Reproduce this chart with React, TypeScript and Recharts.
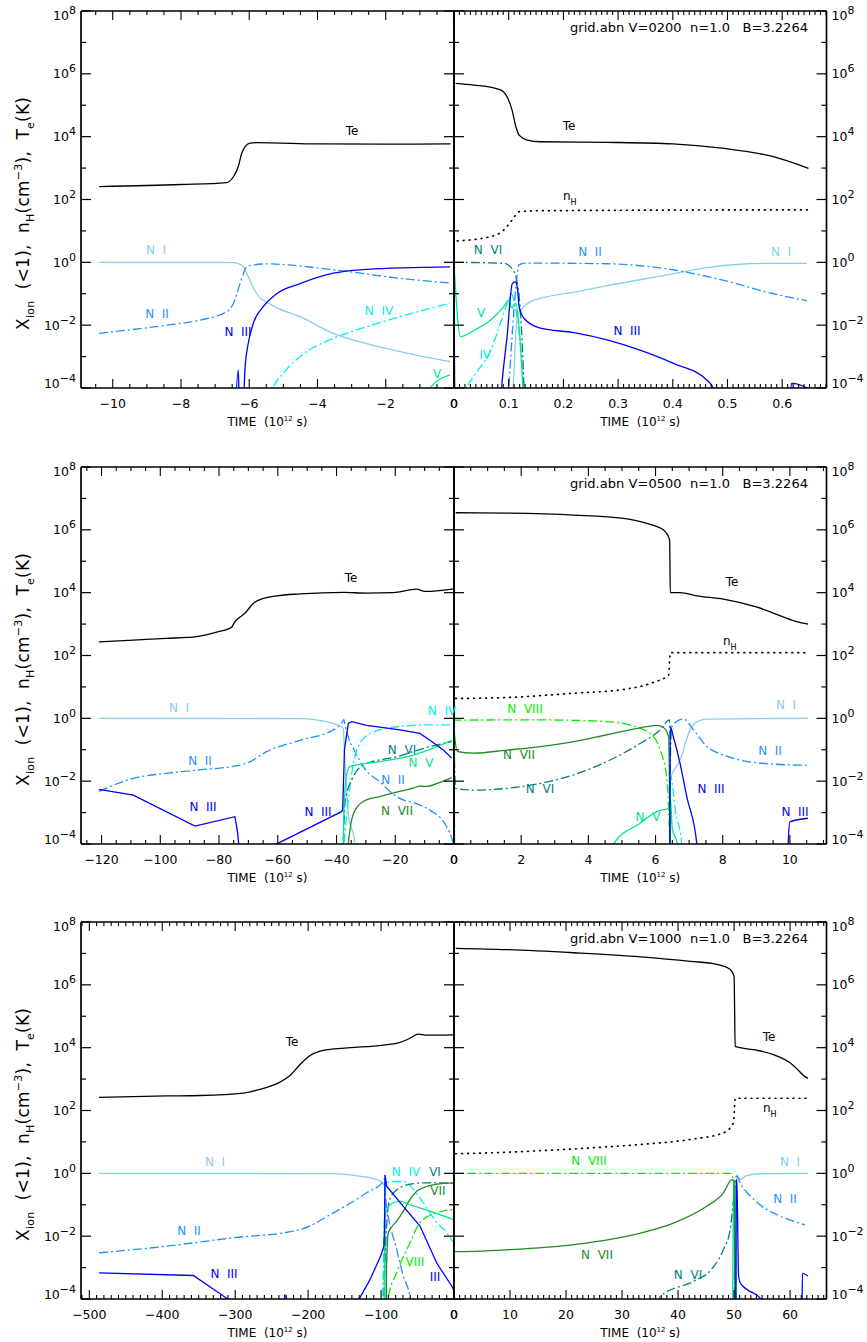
import React from 'react';
import { LineChart, Line, XAxis, YAxis } from 'recharts';

type Pt = [number, number];

// ---------- shared ----------
const yDecades = [1e-4, 1e-3, 1e-2, 1e-1, 1, 1e1, 1e2, 1e3, 1e4, 1e5, 1e6, 1e7, 1e8];

// ---------- row 1 : V=0200 ----------
const r1L_ticks = [-10, -8, -6, -4, -2, 0];
const r1R_ticks = [0, 0.1, 0.2, 0.3, 0.4, 0.5, 0.6];

const r1L_te: Pt[] = [[-10.4, 257], [-8, 300], [-6.66, 347], [-6.46, 540], [-6.32, 1120], [-6.22, 2950], [-6.12, 4800], [-5.98, 6200], [-5.78, 6450], [-4, 5900], [-2, 5750], [-0.1, 5900]];
const r1L_n1: Pt[] = [[-10.4, 1.0], [-6.9, 1.0], [-6.46, 0.98], [-6.17, 0.72], [-6.03, 0.35], [-5.78, 0.1], [-5.29, 0.041], [-4.51, 0.0186], [-3.54, 0.0055], [-2.56, 0.0026], [-1.58, 0.00145], [-0.12, 0.00069]];
const r1L_n2: Pt[] = [[-10.4, 0.0055], [-8.42, 0.01], [-7.44, 0.0145], [-6.66, 0.027], [-6.46, 0.05], [-6.27, 0.21], [-6.07, 0.72], [-5.88, 0.82], [-5.49, 0.89], [-3.54, 0.58], [-1.58, 0.31], [-0.12, 0.22]];
const r1L_n3: Pt[] = [[-6.42, 1e-5], [-6.32, 3.7e-4], [-6.28, 1e-5], [-6.2, 1e-5], [-6.12, 4.8e-4], [-6.03, 2.6e-3], [-5.88, 0.0115], [-5.59, 0.039], [-5.2, 0.1], [-4.51, 0.21], [-3.54, 0.45], [-2.56, 0.6], [-0.12, 0.72]];
const r1L_n4: Pt[] = [[-5.5, 1e-5], [-5.29, 1e-4], [-5.0, 2.95e-4], [-4.51, 1e-3], [-3.54, 3.8e-3], [-2.56, 8.9e-3], [-1.58, 0.0186], [-0.12, 0.05]];
const r1L_n5: Pt[] = [[-0.75, 1e-5], [-0.7, 1e-4], [-0.12, 2.6e-4]];

const r1R_te: Pt[] = [[0.003, 5.0e5], [0.036, 4.4e5], [0.085, 3.1e5], [0.097, 1.86e5], [0.106, 7.1e4], [0.113, 2.1e4], [0.119, 1.12e4], [0.134, 7.8e3], [0.158, 6.9e3], [0.28, 6.6e3], [0.4, 5.9e3], [0.49, 4.3e3], [0.584, 2.3e3], [0.648, 980]];
const r1R_nh: Pt[] = [[0.006, 4.8], [0.067, 6.6], [0.091, 10.7], [0.106, 22], [0.119, 41], [0.158, 44], [0.648, 47]];
const r1R_n6: Pt[] = [[0, 1.0], [0.091, 0.93], [0.103, 0.72], [0.113, 0.35], [0.122, 0.0186], [0.128, 1e-4], [0.13, 1e-5]];
const r1R_n2: Pt[] = [[0.095, 1e-5], [0.1, 1e-4], [0.1066, 5.6e-3], [0.1126, 0.13], [0.119, 0.83], [0.13, 0.95], [0.28, 0.9], [0.4, 0.58], [0.49, 0.275], [0.584, 0.1], [0.645, 0.06]];
const r1R_n3: Pt[] = [[0, 0.7], [0.002, 1e-5], [0.083, 1e-5], [0.087, 1e-4], [0.097, 4.3e-3], [0.1066, 0.21], [0.112, 0.24], [0.116, 0.15], [0.119, 0.039], [0.128, 0.0166], [0.158, 8e-3], [0.219, 5.8e-3], [0.28, 3.4e-3], [0.34, 1.6e-3], [0.4, 6.2e-4], [0.462, 1.8e-4], [0.474, 1e-4], [0.48, 1e-5], [0.612, 1e-5], [0.617, 1.4e-4], [0.645, 1e-4], [0.65, 1e-5]];
const r1R_n1: Pt[] = [[0.104, 1e-5], [0.108, 1e-4], [0.1157, 0.0186], [0.125, 0.035], [0.14, 0.056], [0.158, 0.071], [0.225, 0.117], [0.28, 0.18], [0.4, 0.43], [0.462, 0.68], [0.523, 0.87], [0.584, 0.93], [0.645, 0.93]];
const r1R_n4: Pt[] = [[0.02, 1e-5], [0.024, 1e-4], [0.036, 2.3e-4], [0.067, 1.6e-3], [0.085, 0.0115], [0.091, 0.024], [0.1, 0.063], [0.104, 0.1], [0.11, 0.06], [0.115, 0.02], [0.122, 1.6e-3], [0.126, 1e-4], [0.128, 1e-5]];
const r1R_n5: Pt[] = [[0, 0.85], [0.012, 4.3e-3], [0.037, 6.9e-3], [0.067, 0.0145], [0.091, 0.039], [0.1, 0.063], [0.106, 0.035], [0.113, 0.05], [0.12, 5e-3], [0.126, 1e-4], [0.129, 1e-5]];

// ---------- row 2 : V=0500 ----------
const r2L_ticks = [-120, -100, -80, -60, -40, -20, 0];
const r2R_ticks = [0, 2, 4, 6, 8, 10];

const r2L_te: Pt[] = [[-120.9, 270], [-109.2, 310], [-97.9, 350], [-87.6, 400], [-80.8, 550], [-75.7, 800], [-74.6, 1200], [-73.5, 1500], [-71.2, 2200], [-68.3, 4600], [-64.9, 6600], [-60.4, 7900], [-52.5, 9100], [-37.7, 10200], [-29.7, 9700], [-20.7, 10000], [-12.7, 12900], [-9.9, 11000], [-0.2, 13300]];
const r2L_n1: Pt[] = [[-120.9, 1.0], [-52.5, 0.98], [-41.1, 0.69], [-38.3, 0.54], [-37.7, 0.45], [-37.1, 0.037], [-36, 9.5e-4], [-33.7, 1e-4], [-33, 1e-5]];
const r2L_n2: Pt[] = [[-120.9, 4.7e-3], [-109.2, 0.0123], [-97.9, 0.0178], [-86.5, 0.023], [-74, 0.031], [-70.6, 0.037], [-63.8, 0.087], [-52.5, 0.2], [-41.1, 0.43], [-38.3, 0.7], [-37.5, 0.9], [-37, 0.55], [-36, 0.26], [-33.5, 0.08], [-30.9, 0.029], [-25, 9e-3], [-19.5, 3.2e-3], [-12, 1.8e-3], [-8.2, 1.2e-3], [-2.5, 3.5e-4], [-0.3, 1e-4], [0, 1e-5]];
const r2L_n3: Pt[] = [[-120.9, 5.5e-3], [-109.2, 3.6e-3], [-88.2, 3.7e-4], [-74.6, 7.4e-4], [-73.8, 2.8e-4], [-73.3, 1e-4], [-73, 1e-5], [-61, 1e-5], [-60.4, 1e-4], [-38.3, 1.07e-3], [-37.9, 1.2e-3], [-37.3, 0.1], [-36, 0.69], [-34.8, 0.78], [-29.7, 0.6], [-18.4, 0.43], [-11.6, 0.33], [-8.2, 0.2], [-3.6, 0.098], [-0.8, 0.054]];
const r2L_n4: Pt[] = [[-40, 1e-5], [-37.5, 1e-4], [-36, 2.5e-3], [-33.1, 0.098], [-28.6, 0.33], [-19.5, 0.54], [-8.2, 0.62], [-0.8, 0.62]];
const r2L_n5: Pt[] = [[-37.9, 1e-5], [-37.5, 1e-3], [-36.5, 0.0178], [-35.4, 0.029], [-33.1, 0.033], [-25.2, 0.042], [-13.9, 0.068], [-0.8, 0.2]];
const r2L_n6: Pt[] = [[-38, 1e-5], [-37, 2.5e-3], [-34.3, 0.0138], [-30.9, 0.033], [-19.5, 0.06], [-8.2, 0.126], [-0.8, 0.18]];
const r2L_n7: Pt[] = [[-37, 1e-5], [-36, 1e-4], [-35, 5e-4], [-33, 1.5e-3], [-30, 2.5e-3], [-25, 3.3e-3], [-19.5, 4.5e-3], [-13.9, 6e-3], [-11.6, 7e-3], [-9.3, 6.8e-3], [-5, 9e-3], [-0.8, 0.013]];

const r2R_te: Pt[] = [[0.05, 3.5e6], [1.58, 3.4e6], [3.56, 2.95e6], [5.05, 2.3e6], [5.74, 1.6e6], [6.24, 9.8e5], [6.42, 4.8e5], [6.44, 1.0e4], [6.73, 1.0e4], [7.23, 7.9e3], [8.02, 6.2e3], [9.0, 3.5e3], [10.1, 1.3e3], [10.2, 1.2e3], [10.54, 1.0e3]];
const r2R_nh: Pt[] = [[0.05, 4.3], [1.58, 4.6], [3.56, 6.3], [5.05, 8.3], [5.94, 14], [6.39, 24], [6.44, 123], [10.54, 123]];
const r2R_n8: Pt[] = [[0, 1e-5], [0.02, 0.88], [2.57, 0.89], [4.55, 0.79], [5.54, 0.48], [5.94, 0.26], [6.14, 0.098], [6.34, 0.011], [6.42, 1e-4], [6.44, 1e-5]];
const r2R_n7: Pt[] = [[0, 0.38], [0.1, 0.087], [0.59, 0.078], [1.58, 0.098], [2.57, 0.126], [3.56, 0.18], [4.55, 0.3], [5.54, 0.5], [6.04, 0.6], [6.24, 0.51], [6.39, 0.26], [6.44, 1e-5]];
const r2R_n6: Pt[] = [[0, 0.18], [0.05, 5.9e-3], [0.59, 5.2e-3], [1.58, 5.9e-3], [2.57, 8.5e-3], [3.56, 0.0158], [4.55, 0.042], [5.54, 0.158], [6.14, 0.43], [6.42, 0.89], [6.44, 1e-5]];
const r2R_n5: Pt[] = [[0, 0.2], [0.03, 1e-5], [4.7, 1e-5], [4.75, 1e-4], [5.54, 4.6e-4], [6.04, 1.07e-3], [6.39, 1.4e-3], [6.44, 3e-3], [6.5, 3e-4], [6.65, 1e-4], [6.7, 1e-5]];
const r2R_n4: Pt[] = [[0, 0.62], [0.02, 1e-5], [6.42, 1e-5], [6.45, 0.014], [6.6, 1e-3], [6.78, 1e-4], [6.82, 1e-5]];
const r2R_n3: Pt[] = [[0, 0.054], [0.02, 1e-5], [6.42, 1e-5], [6.44, 0.54], [6.53, 0.26], [6.73, 0.037], [6.93, 3.2e-3], [7.23, 1e-4], [7.26, 1e-5], [9.93, 1e-5], [9.95, 1e-4], [10.0, 5.1e-4], [10.54, 6.6e-4]];
const r2R_n2: Pt[] = [[6.42, 1e-5], [6.44, 0.05], [6.5, 0.6], [6.83, 0.95], [7.13, 0.43], [7.52, 0.13], [8.02, 0.068], [8.51, 0.047], [9.5, 0.035], [10.5, 0.032]];
const r2R_n1: Pt[] = [[6.42, 1e-5], [6.44, 0.011], [6.73, 0.047], [7.03, 0.43], [7.23, 0.78], [7.52, 0.95], [10.54, 1.0]];

// ---------- row 3 : V=1000 ----------
const r3L_ticks = [-500, -400, -300, -200, -100, 0];
const r3R_ticks = [0, 10, 20, 30, 40, 50, 60];

const r3L_te: Pt[] = [[-486.7, 263], [-394, 290], [-348, 300], [-289, 360], [-266, 470], [-238.6, 800], [-224.9, 1290], [-211, 2900], [-197.4, 5600], [-183.7, 7800], [-165.4, 9100], [-142.6, 1.0e4], [-96.9, 1.2e4], [-74, 1.48e4], [-60.3, 2.0e4], [-48.9, 2.7e4], [-37.5, 2.5e4], [-0.9, 2.57e4]];
const r3L_n1: Pt[] = [[-486.7, 1.0], [-165.4, 0.98], [-128.9, 0.81], [-114.5, 0.72], [-100.8, 0.56], [-96.2, 0.44], [-94.5, 0.25], [-93.5, 1e-3], [-93, 1e-5]];
const r3L_n2: Pt[] = [[-486.7, 2.95e-3], [-394, 4.8e-3], [-302.6, 8.9e-3], [-220.3, 0.0145], [-211.2, 0.0162], [-165.4, 0.055], [-119.7, 0.24], [-96.9, 0.56], [-95, 0.7], [-94.6, 0.24], [-78.6, 3.8e-3], [-69.5, 5.4e-4], [-60.3, 1.1e-4], [-59, 1e-5]];
const r3L_n3: Pt[] = [[-486.7, 6.8e-4], [-357.4, 5.6e-4], [-311.7, 1.05e-4], [-310, 1e-5], [-235, 1e-5], [-232, 1.4e-4], [-229, 1e-5], [-136, 1e-5], [-130, 1e-4], [-115, 4.2e-4], [-100, 2.5e-3], [-96, 5e-3], [-95.2, 0.02], [-94.6, 0.9], [-92.3, 0.39], [-69.5, 0.089], [-46.6, 0.021], [-23.7, 1.4e-3], [-3.2, 2.6e-4], [-0.5, 2e-4]];
const r3L_n4: Pt[] = [[-102, 1e-5], [-98, 1e-4], [-95.5, 0.05], [-93, 0.4], [-88, 0.55], [-70, 0.55], [-62, 0.45], [-55.8, 0.31], [-42.1, 0.115], [-23.7, 0.027], [-10, 0.013], [-1, 0.0063]];
const r3L_n5: Pt[] = [[-96, 1e-5], [-95, 0.03], [-94.6, 0.044], [-87.8, 0.1], [-74, 0.13], [-60.3, 0.1], [-32.9, 0.063], [-1, 0.034]];
const r3L_n6: Pt[] = [[-97, 1e-5], [-95, 1e-3], [-92, 0.03], [-88, 0.15], [-80, 0.28], [-74, 0.35], [-60, 0.45], [-40, 0.5], [-1, 0.48]];
const r3L_n7: Pt[] = [[-93, 1e-5], [-92.5, 1e-3], [-90, 0.013], [-78.6, 0.03], [-69.5, 0.063], [-60.3, 0.148], [-51.1, 0.27], [-42, 0.35], [-23.7, 0.45], [-1, 0.5]];
const r3L_n8: Pt[] = [[-91, 1e-5], [-90, 1.1e-4], [-78.6, 6.9e-4], [-60.3, 6.2e-3], [-46.6, 0.027], [-23.7, 0.055], [-1, 0.071]];

const r3R_te: Pt[] = [[0.3, 1.45e7], [9.5, 1.32e7], [21.4, 1.05e7], [33.3, 7.8e6], [42.2, 5.6e6], [46.9, 4.5e6], [49.3, 3.1e6], [50.0, 1.9e6], [50.2, 1.1e4], [51.1, 1.0e4], [54, 8.3e3], [57, 6.0e3], [60, 3.3e3], [61.8, 1.66e3], [62.4, 1.29e3], [63.2, 1.05e3]];
const r3R_nh: Pt[] = [[0.3, 4.2], [9.5, 4.7], [21.4, 6.0], [33.3, 8.3], [42.2, 12], [48.1, 19.5], [49.9, 41], [50.2, 245], [63.2, 245]];
const r3R_n8: Pt[] = [[0, 1e-5], [0.05, 1.0], [49.3, 1.0], [49.9, 0.63], [50.1, 0.1], [50.3, 1e-5]];
const r3R_n7: Pt[] = [[0, 0.5], [0.05, 3.2e-3], [9.5, 3.7e-3], [21.4, 5.4e-3], [33.3, 0.0126], [39.2, 0.026], [45.1, 0.089], [48.1, 0.24], [49.6, 0.63], [50.0, 0.6], [50.2, 1e-5]];
const r3R_n6: Pt[] = [[0, 0.48], [0.05, 1e-5], [36, 1e-5], [36.8, 1.2e-4], [42.8, 3.7e-4], [45.7, 7.8e-4], [48.1, 3.8e-3], [49.3, 0.016], [49.9, 0.15], [50.2, 0.56], [50.4, 1e-5]];
const r3R_n5: Pt[] = [[0, 0.034], [0.05, 1e-5], [49.7, 1e-5], [49.9, 0.5], [50.2, 0.3], [50.4, 1e-5]];
const r3R_n4: Pt[] = [[0, 6.3e-3], [0.05, 1e-5]];
const r3R_n1: Pt[] = [[50.2, 1e-5], [50.3, 1e-3], [50.5, 0.9], [51.1, 0.63], [52.2, 0.85], [54.6, 0.97], [63.2, 1.0]];
const r3R_n2: Pt[] = [[50.0, 1e-5], [50.2, 0.3], [50.4, 0.81], [51.4, 0.39], [52.9, 0.19], [54.6, 0.1], [57.6, 0.049], [60.6, 0.03], [62.7, 0.023]];
const r3R_n3: Pt[] = [[50.3, 1e-5], [50.4, 0.63], [50.5, 0.63], [50.8, 5.4e-4], [51.1, 3.3e-4], [52.3, 2e-4], [54.6, 1.1e-4], [55, 1e-5], [62.1, 1e-5], [62.2, 6.5e-4], [63.2, 5.4e-4]];

// ---------- styles ----------
const COL = {
  te: '#000000', nh: '#000000',
  n1: '#87CEEB', n2: '#1E90FF', n3: '#0000FF', n4: '#00F0F0',
  n5: '#00E68A', n6: '#008080', n7: '#228B22', n8: '#00EE00',
};
const DASH: Record<string, string | undefined> = { solid: undefined, dd: '9 3 2 3', dot: '0.8 5.2' };
const FONT = '"DejaVu Sans", "Liberation Sans", sans-serif';

type Series = { data: Pt[]; color: string; kind: 'solid' | 'dd' | 'dot'; curve: 'monotoneX' | 'linear' };
const S = (data: Pt[], color: string, kind: Series['kind'] = 'solid', curve: Series['curve'] = 'monotoneX'): Series =>
  ({ data, color, kind, curve });

// chart margins + axis box sizes (axes need a non-zero box to be drawn)
const AX_H = 30, AX_W = 40;
const M = { top: 0, bottom: 20, left: 20, right: 20 };
const OFF_L = M.left + AX_W, OFF_T = M.top + AX_H;
const PLOT_H = 377;

const fmt = (v: number) => (v < 0 ? '\u2212' + String(-v) : String(v));

function Panel(props: {
  left: number; top: number; w: number; domain: [number, number];
  majors: number[]; minor: number; side: 'left' | 'right'; series: Series[];
}) {
  const { left, top, w, domain, majors, minor, side, series } = props;
  const all: number[] = [];
  const i0 = Math.ceil(domain[0] / minor - 1e-9);
  const i1 = Math.floor(domain[1] / minor + 1e-9);
  for (let i = i0; i <= i1; i++) all.push(+(i * minor).toFixed(6));
  const findMajor = (v: number) => majors.find(m => Math.abs(m - v) < minor * 0.01);

  const bottomTick = (p: any) => {
    const m = findMajor(p.payload.value);
    return (
      <g>
        <line x1={p.x} x2={p.x} y1={p.y} y2={p.y - (m !== undefined ? 9 : 4)} stroke="#000" strokeWidth={1.1} />
        {m !== undefined && (
          <text x={p.x} y={p.y + 20} textAnchor="middle" fontSize={12.5} fill="#000" fontFamily={FONT}>{fmt(m)}</text>
        )}
      </g>
    );
  };
  const topTick = (p: any) => {
    const m = findMajor(p.payload.value);
    return <line x1={p.x} x2={p.x} y1={p.y} y2={p.y + (m !== undefined ? 9 : 4)} stroke="#000" strokeWidth={1.1} />;
  };
  const yTick = (pos: 'left' | 'right', showLabel: boolean) => (p: any) => {
    const e = Math.round(Math.log10(p.payload.value));
    const major = e % 2 === 0;
    const len = major ? 10 : 5;
    const dir = pos === 'left' ? 1 : -1;
    let ly = p.y + 4.5;
    if (e === 8) ly = p.y + 9;
    if (e === -4) ly = p.y;
    return (
      <g>
        <line x1={p.x} x2={p.x + dir * len} y1={p.y} y2={p.y} stroke="#000" strokeWidth={1.2} />
        {showLabel && major && (
          <text x={pos === 'left' ? p.x - 5 : p.x + 5} y={ly} textAnchor={pos === 'left' ? 'end' : 'start'}
            fontSize={12.5} fill="#000" fontFamily={FONT}>
            10<tspan dy={-6} fontSize={11}>{e < 0 ? '\u2212' + String(-e) : String(e)}</tspan>
          </text>
        )}
      </g>
    );
  };
  const axisLine = { stroke: '#000', strokeWidth: 1.7 };

  return (
    <div style={{ position: 'absolute', left: left - OFF_L, top: top - OFF_T }}>
      <LineChart width={w + 2 * (M.left + AX_W)} height={PLOT_H + 2 * AX_H + M.top + M.bottom} margin={M}>
        <XAxis xAxisId="b" type="number" dataKey="t" domain={domain} allowDataOverflow ticks={all} interval={0}
          height={AX_H} tickSize={0} tickMargin={0} tickLine={false} axisLine={axisLine} tick={bottomTick} />
        <XAxis xAxisId="t" orientation="top" type="number" dataKey="t" domain={domain} allowDataOverflow ticks={all} interval={0}
          height={AX_H} tickSize={0} tickMargin={0} tickLine={false} axisLine={axisLine} tick={topTick} />
        <YAxis yAxisId="l" orientation="left" type="number" scale="log" domain={[1e-4, 1e8]} allowDataOverflow ticks={yDecades}
          interval={0} width={AX_W} tickSize={0} tickMargin={0} tickLine={false} axisLine={axisLine} tick={yTick('left', side === 'left')} />
        <YAxis yAxisId="r" orientation="right" type="number" scale="log" domain={[1e-4, 1e8]} allowDataOverflow ticks={yDecades}
          interval={0} width={AX_W} tickSize={0} tickMargin={0} tickLine={false} axisLine={axisLine} tick={yTick('right', side === 'right')} />
        {series.map((s, i) => (
          <Line key={i} xAxisId="b" yAxisId="l" data={s.data.map(([t, v]) => ({ t, v }))} dataKey="v" type={s.curve}
            stroke={s.color} strokeWidth={s.kind === 'dot' ? 1.7 : 1.3} strokeDasharray={DASH[s.kind]}
            strokeLinecap={s.kind === 'dot' ? 'round' : 'butt'} dot={false} activeDot={false} isAnimationActive={false} />
        ))}
      </LineChart>
    </div>
  );
}

const ROW_TOP = [11, 467, 922];
const XL = 81, XM = 454, XR = 826.5;

const panels = [
  { left: XL, top: ROW_TOP[0], w: XM - XL, domain: [-10.93, 0] as [number, number], majors: r1L_ticks, minor: 0.5, side: 'left' as const,
    series: [S(r1L_n1, COL.n1), S(r1L_n2, COL.n2, 'dd'), S(r1L_n3, COL.n3), S(r1L_n4, COL.n4, 'dd'), S(r1L_n5, COL.n5), S(r1L_te, COL.te)] },
  { left: XM, top: ROW_TOP[0], w: XR - XM, domain: [0, 0.681] as [number, number], majors: r1R_ticks, minor: 0.01, side: 'right' as const,
    series: [S(r1R_n1, COL.n1), S(r1R_n2, COL.n2, 'dd'), S(r1R_n4, COL.n4, 'dd'), S(r1R_n5, COL.n5), S(r1R_n6, COL.n6, 'dd'), S(r1R_n3, COL.n3), S(r1R_nh, COL.nh, 'dot'), S(r1R_te, COL.te)] },
  { left: XL, top: ROW_TOP[1], w: XM - XL, domain: [-127, 0] as [number, number], majors: r2L_ticks, minor: 5, side: 'left' as const,
    series: [S(r2L_n1, COL.n1), S(r2L_n2, COL.n2, 'dd'), S(r2L_n4, COL.n4, 'dd'), S(r2L_n6, COL.n6, 'dd'), S(r2L_n5, COL.n5), S(r2L_n7, COL.n7), S(r2L_n3, COL.n3, 'solid', 'linear'), S(r2L_te, COL.te)] },
  { left: XM, top: ROW_TOP[1], w: XR - XM, domain: [0, 11.09] as [number, number], majors: r2R_ticks, minor: 0.5, side: 'right' as const,
    series: [S(r2R_n1, COL.n1), S(r2R_n2, COL.n2, 'dd'), S(r2R_n4, COL.n4, 'dd'), S(r2R_n6, COL.n6, 'dd'), S(r2R_n8, COL.n8, 'dd'), S(r2R_n5, COL.n5), S(r2R_n7, COL.n7), S(r2R_n3, COL.n3), S(r2R_nh, COL.nh, 'dot'), S(r2R_te, COL.te)] },
  { left: XL, top: ROW_TOP[2], w: XM - XL, domain: [-511.4, 0] as [number, number], majors: r3L_ticks, minor: 10, side: 'left' as const,
    series: [S(r3L_n1, COL.n1), S(r3L_n2, COL.n2, 'dd'), S(r3L_n4, COL.n4, 'dd'), S(r3L_n6, COL.n6, 'dd'), S(r3L_n8, COL.n8, 'dd'), S(r3L_n5, COL.n5), S(r3L_n7, COL.n7), S(r3L_n3, COL.n3, 'solid', 'linear'), S(r3L_te, COL.te)] },
  { left: XM, top: ROW_TOP[2], w: XR - XM, domain: [0, 66.5] as [number, number], majors: r3R_ticks, minor: 1, side: 'right' as const,
    series: [S(r3R_n1, COL.n1), S(r3R_n2, COL.n2, 'dd'), S(r3R_n4, COL.n4, 'dd'), S(r3R_n6, COL.n6, 'dd'), S(r3R_n8, COL.n8, 'dd'), S(r3R_n5, COL.n5), S(r3R_n7, COL.n7), S(r3R_n3, COL.n3), S(r3R_nh, COL.nh, 'dot'), S(r3R_te, COL.te)] },
];

const annotations = ['grid.abn V=0200  n=1.0   B=3.2264', 'grid.abn V=0500  n=1.0   B=3.2264', 'grid.abn V=1000  n=1.0   B=3.2264'];

// series label placement (centre of text)
const seriesLabels: { x: number; y: number; t: string; c: string }[] = [
  { x: 352, y: 131, t: 'Te', c: COL.te },
  { x: 156, y: 250, t: 'N  I', c: COL.n1 },
  { x: 157, y: 314, t: 'N  II', c: COL.n2 },
  { x: 238, y: 332, t: 'N  III', c: COL.n3 },
  { x: 379, y: 311, t: 'N  IV', c: COL.n4 },
  { x: 437, y: 374, t: 'V', c: COL.n5 },
  { x: 569, y: 126, t: 'Te', c: COL.te },
  { x: 488, y: 250, t: 'N  VI', c: COL.n6 },
  { x: 590, y: 252, t: 'N  II', c: COL.n2 },
  { x: 781, y: 252, t: 'N  I', c: COL.n1 },
  { x: 627, y: 331, t: 'N  III', c: COL.n3 },
  { x: 481, y: 313, t: 'V', c: COL.n5 },
  { x: 485, y: 355, t: 'IV', c: COL.n4 },

  { x: 351, y: 578, t: 'Te', c: COL.te },
  { x: 179, y: 708, t: 'N  I', c: COL.n1 },
  { x: 200, y: 761, t: 'N  II', c: COL.n2 },
  { x: 203, y: 807, t: 'N  III', c: COL.n3 },
  { x: 318, y: 812, t: 'N  III', c: COL.n3 },
  { x: 442, y: 711, t: 'N  IV', c: COL.n4 },
  { x: 402, y: 750, t: 'N  VI', c: COL.n6 },
  { x: 421, y: 763, t: 'N  V', c: COL.n5 },
  { x: 393, y: 780, t: 'N  II', c: COL.n2 },
  { x: 397, y: 811, t: 'N  VII', c: COL.n7 },
  { x: 732, y: 582, t: 'Te', c: COL.te },
  { x: 525, y: 709, t: 'N  VIII', c: COL.n8 },
  { x: 519, y: 755, t: 'N  VII', c: COL.n7 },
  { x: 540, y: 789, t: 'N  VI', c: COL.n6 },
  { x: 648, y: 817, t: 'N  V', c: COL.n5 },
  { x: 711, y: 789, t: 'N  III', c: COL.n3 },
  { x: 795, y: 812, t: 'N  III', c: COL.n3 },
  { x: 770, y: 751, t: 'N  II', c: COL.n2 },
  { x: 786, y: 705, t: 'N  I', c: COL.n1 },

  { x: 292, y: 1042, t: 'Te', c: COL.te },
  { x: 215, y: 1162, t: 'N  I', c: COL.n1 },
  { x: 189, y: 1231, t: 'N  II', c: COL.n2 },
  { x: 224, y: 1274, t: 'N  III', c: COL.n3 },
  { x: 406, y: 1172, t: 'N  IV', c: COL.n4 },
  { x: 435, y: 1172, t: 'VI', c: COL.n6 },
  { x: 438, y: 1191, t: 'VII', c: COL.n7 },
  { x: 415, y: 1262, t: 'VIII', c: COL.n8 },
  { x: 435, y: 1277, t: 'III', c: COL.n3 },
  { x: 769, y: 1037, t: 'Te', c: COL.te },
  { x: 589, y: 1161, t: 'N  VIII', c: COL.n8 },
  { x: 790, y: 1162, t: 'N  I', c: COL.n1 },
  { x: 785, y: 1199, t: 'N  II', c: COL.n2 },
  { x: 597, y: 1255, t: 'N  VII', c: COL.n7 },
  { x: 688, y: 1275, t: 'N  VI', c: COL.n6 },
];
const nhLabels = [{ x: 563, y: 200 }, { x: 723, y: 645 }, { x: 763, y: 1112 }];

export default function App() {
  return (
    <div style={{ position: 'absolute', left: 0, top: 0, width: 867, height: 1342, background: '#fff', fontFamily: FONT, overflow: 'hidden' }}>
      {panels.map((p, i) => <Panel key={i} {...p} />)}
      <svg width={867} height={1342} style={{ position: 'absolute', left: 0, top: 0, pointerEvents: 'none' }} fontFamily={FONT}>
        {ROW_TOP.map((top, r) => (
          <g key={r}>
            <text transform={`translate(29 ${top + 202.5}) rotate(-90)`} textAnchor="middle" fontSize={17} fill="#000"
              textLength={233} lengthAdjust="spacing" style={{ whiteSpace: 'pre' }}>
              X<tspan fontSize={11} dy={5}>ion</tspan><tspan dy={-5}>{'  (<1),  n'}</tspan><tspan fontSize={11} dy={5}>H</tspan>
              <tspan dy={-5}>(cm</tspan><tspan fontSize={11} dy={-7}>{'\u22123'}</tspan><tspan dy={7}>{'),  T'}</tspan>
              <tspan fontSize={11} dy={5}>e</tspan><tspan dy={-5}>(K)</tspan>
            </text>
            {[(XL + XM) / 2, (XM + XR) / 2].map((cx, k) => (
              <text key={k} x={cx} y={top + PLOT_H + 38} textAnchor="middle" fontSize={12} fill="#000" style={{ whiteSpace: 'pre' }}>
                {'TIME  (10'}<tspan fontSize={7} dy={-5}>12</tspan><tspan dy={5}>{' s)'}</tspan>
              </text>
            ))}
            <text x={808} y={top + 21} textAnchor="end" fontSize={13} fill="#000" textLength={238} lengthAdjust="spacing" style={{ whiteSpace: 'pre' }}>
              {annotations[r]}
            </text>
          </g>
        ))}
        {seriesLabels.map((l, i) => (
          <text key={i} x={l.x} y={l.y + 4.3} textAnchor="middle" fontSize={12} fill={l.c} style={{ whiteSpace: 'pre' }}>{l.t}</text>
        ))}
        {nhLabels.map((l, i) => (
          <text key={i} x={l.x} y={l.y} fontSize={12} fill="#000">n<tspan fontSize={8} dy={5}>H</tspan></text>
        ))}
      </svg>
    </div>
  );
}
